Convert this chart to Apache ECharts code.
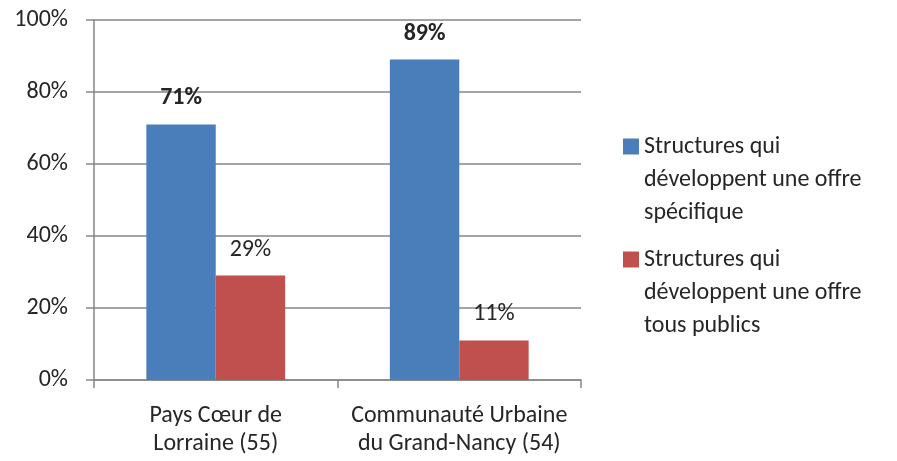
<!DOCTYPE html>
<html>
<head>
<meta charset="utf-8">
<script src="https://cdn.jsdelivr.net/npm/echarts@6/dist/echarts.min.js"></script>
<style>
  html, body { margin: 0; padding: 0; background: #fff; }
  #chart { width: 897px; height: 461px; }
</style>
</head>
<body>
<div id="chart"></div>
<script>
// Territories compared
const categories = ['Pays Cœur de\nLorraine (55)', 'Communauté Urbaine\ndu Grand-Nancy (54)'];
// Share of structures (%)
const specificOffer = [71, 89];
const generalOffer = [29, 11];
const seriesNames = [
  'Structures qui\ndéveloppent une offre\nspécifique',
  'Structures qui\ndéveloppent une offre\ntous publics'
];
const yTicks = [0, 20, 40, 60, 80, 100];

const FONT = 'Carlito, Lato, "Liberation Sans", sans-serif';
const FS = 24;
const TEXT = '#262626';
const AXIS = '#868686';

const chart = echarts.init(document.getElementById('chart'), null, { renderer: 'canvas' });

// Legend entry: two blank lines in front keep the first text line beside the swatch
function legendFor(name, top) {
  return {
    data: [name],
    left: 623,
    top: top,
    padding: 0,
    orient: 'vertical',
    itemWidth: 16,
    itemHeight: 16,
    itemGap: 0,
    icon: 'rect',
    selectedMode: false,
    formatter: n => '\n\n' + n,
    textStyle: {
      fontFamily: FONT,
      fontSize: FS,
      color: TEXT,
      lineHeight: 33
    }
  };
}

chart.setOption({
  animation: false,
  textStyle: { fontFamily: FONT },
  legend: [legendFor(seriesNames[0], 64), legendFor(seriesNames[1], 177)],
  grid: { left: 94, right: 316, top: 20, bottom: 81, containLabel: false },
  xAxis: {
    type: 'category',
    data: categories,
    axisLine: { show: true, lineStyle: { color: AXIS, width: 1.5 } },
    axisTick: { show: true, length: 8, lineStyle: { color: AXIS, width: 1.5 } },
    axisLabel: {
      margin: 22,
      fontFamily: FONT,
      fontSize: FS,
      lineHeight: 28,
      color: TEXT,
      interval: 0
    }
  },
  yAxis: {
    type: 'value',
    min: yTicks[0],
    max: yTicks[yTicks.length - 1],
    interval: 20,
    axisLine: { show: true, lineStyle: { color: AXIS, width: 1.5 } },
    axisTick: { show: true, length: 8, lineStyle: { color: AXIS, width: 1.5 } },
    splitLine: { show: true, lineStyle: { color: AXIS, width: 1.5 } },
    axisLabel: {
      margin: 26,
      fontFamily: FONT,
      fontSize: FS,
      color: TEXT,
      formatter: '{value}%'
    }
  },
  series: [
    {
      name: seriesNames[0],
      type: 'bar',
      data: specificOffer,
      barGap: '0%',
      barCategoryGap: '43%',
      itemStyle: { color: '#4A7EBB' },
      label: {
        show: true,
        position: 'top',
        distance: 14,
        formatter: '{c}%',
        fontFamily: FONT,
        fontSize: FS,
        lineHeight: 24,
        fontWeight: 'bold',
        color: TEXT
      }
    },
    {
      name: seriesNames[1],
      type: 'bar',
      data: generalOffer,
      barGap: '0%',
      barCategoryGap: '43%',
      itemStyle: { color: '#C0504D' },
      label: {
        show: true,
        position: 'top',
        distance: 14,
        formatter: '{c}%',
        fontFamily: FONT,
        fontSize: FS,
        lineHeight: 24,
        color: TEXT
      }
    }
  ]
});
</script>
</body>
</html>
